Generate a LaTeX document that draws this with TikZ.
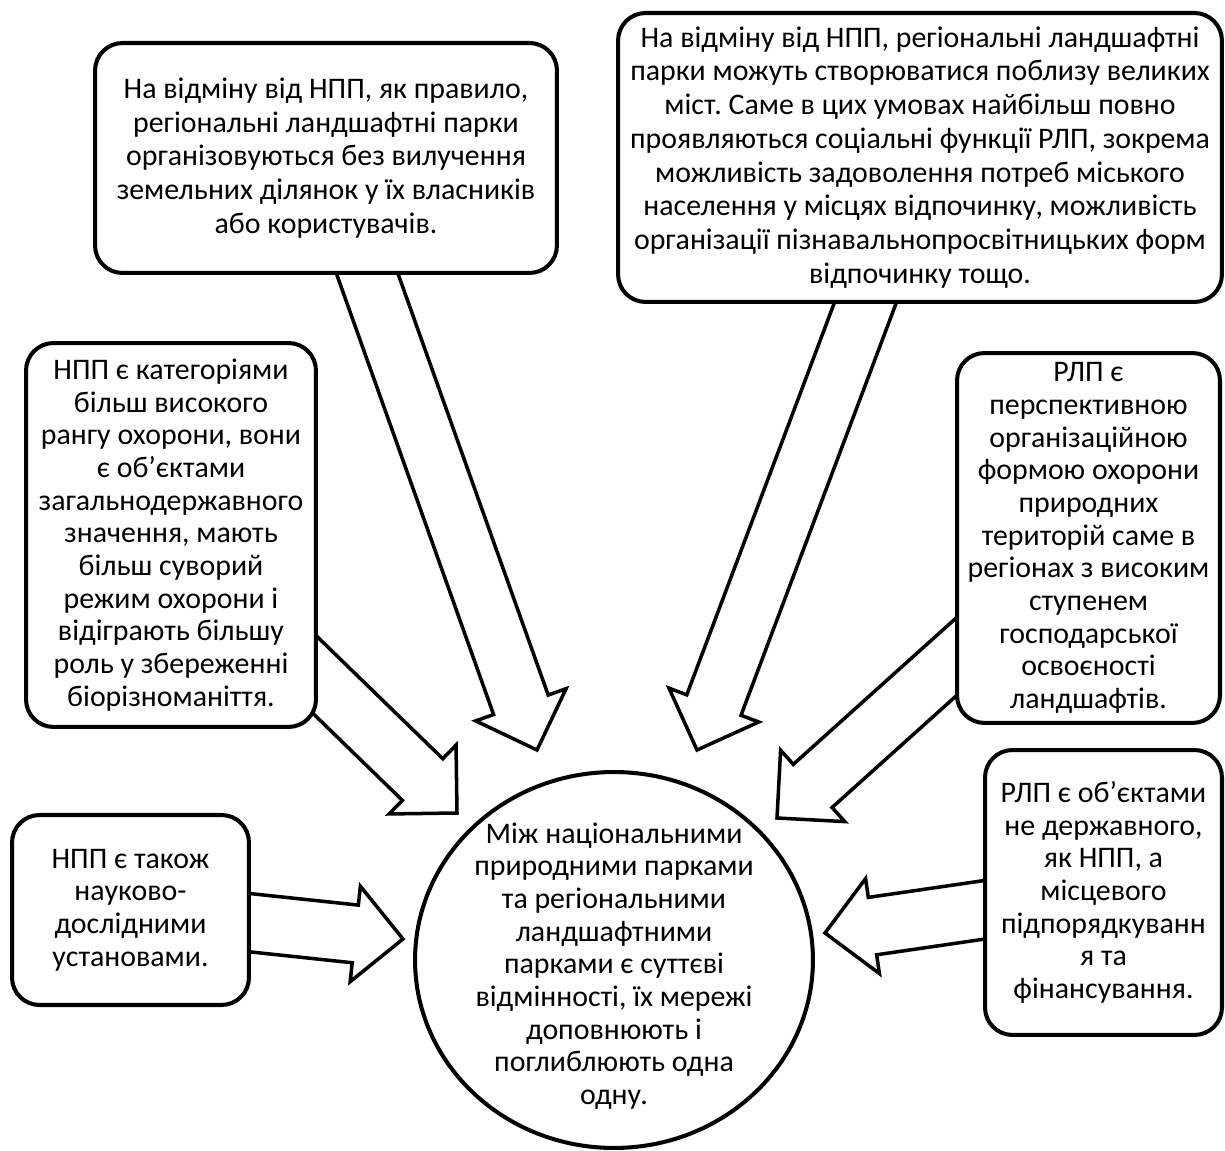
\documentclass[tikz,border=0pt]{standalone}
\usepackage{fontspec}
\setmainfont{Carlito}
\frenchspacing
\usetikzlibrary{calc,shapes.geometric}
\pgfdeclarelayer{back}
\pgfsetlayers{back,main}

\tikzset{
  box/.style={draw, line width=2.3pt, rounded corners=0.55cm, fill=white,
    align=center, inner sep=2pt, font=\fontsize{17}{18.6}\selectfont},
  widebox/.style={box, font=\fontsize{17}{19.2}\selectfont},
  hub/.style={draw, ellipse, line width=2.3pt, fill=white, inner sep=0pt},
  bigarrow/.style={draw, line width=2pt, fill=white, line join=miter,
    to path={($(\tikztostart)!0.58cm!90:(\tikztotarget)$)
      -- ($(\tikztotarget)!0.96cm!(\tikztostart)!0.58cm!90:(\tikztotarget)$)
      -- ($(\tikztotarget)!0.96cm!(\tikztostart)!0.96cm!90:(\tikztotarget)$)
      -- (\tikztotarget)
      -- ($(\tikztotarget)!0.96cm!(\tikztostart)!0.96cm!-90:(\tikztotarget)$)
      -- ($(\tikztotarget)!0.96cm!(\tikztostart)!0.58cm!-90:(\tikztotarget)$)
      -- ($(\tikztostart)!0.58cm!-90:(\tikztotarget)$) -- cycle}}
}

\begin{document}
\begin{tikzpicture}[x=0.02cm, y=-0.02cm]
  \useasboundingbox (0,0) rectangle (1225,1151);

  \node[widebox, minimum width=9.24cm, minimum height=4.6cm] (noext) at (326,158)
    {На відміну від НПП, як правило,\\регіональні ландшафтні парки\\організовуються без вилучення\\земельних ділянок у їх власників\\або користувачів.};
  \node[widebox, minimum width=12.08cm, minimum height=5.78cm] (cities) at (920,157.5)
    {На відміну від НПП, регіональні ландшафтні\\парки можуть створюватися поблизу великих\\міст. Саме в цих умовах найбільш повно\\проявляються соціальні функції РЛП, зокрема\\можливість задоволення потреб міського\\населення у місцях відпочинку, можливість\\організації пізнавальнопросвітницьких форм\\відпочинку тощо.};
  \node[box, minimum width=5.8cm, minimum height=7.68cm] (rank) at (171,535)
    {НПП є категоріями\\більш високого\\рангу охорони, вони\\є об’єктами\\загальнодержавного\\значення, мають\\більш суворий\\режим охорони і\\відіграють більшу\\роль у збереженні\\біорізноманіття.};
  \node[box, minimum width=5.26cm, minimum height=7.4cm] (form) at (1088.5,538)
    {РЛП є\\перспективною\\організаційною\\формою охорони\\природних\\територій саме в\\регіонах з високим\\ступенем\\господарської\\освоєності\\ландшафтів.};
  \node[box, minimum width=4.74cm, minimum height=3.8cm] (science) at (130.5,910)
    {НПП є також\\науково-\\дослідними\\установами.};
  \node[box, minimum width=4.74cm, minimum height=5.7cm] (local) at (1103.5,892.5)
    {РЛП є об’єктами\\не державного,\\як НПП, а\\місцевого\\підпорядкуванн\\я та\\фінансування.};

  \node[hub, minimum width=7.96cm, minimum height=7.52cm] (hub) at (614,960) {};
  \node[align=center, font=\fontsize{17}{18.6}\selectfont] (hubtext) at (614,966)
    {Між національними\\природними парками\\та регіональними\\ландшафтними\\парками є суттєві\\відмінності, їх мережі\\доповнюють і\\поглиблюють одна\\одну.};

  \coordinate (t1) at (537,750);
  \coordinate (t2) at (697,750);
  \coordinate (t3) at (457,813);
  \coordinate (t4) at (777,818);
  \coordinate (t5) at (403,939);
  \coordinate (t6) at (825,933);

  \begin{pgfonlayer}{back}
    \draw[bigarrow] (noext) to (t1);
    \draw[bigarrow] (cities) to (t2);
    \draw[bigarrow] (rank) to (t3);
    \draw[bigarrow] (form) to (t4);
    \draw[bigarrow] (science) to (t5);
    \draw[bigarrow] (local) to (t6);
  \end{pgfonlayer}
\end{tikzpicture}
\end{document}
